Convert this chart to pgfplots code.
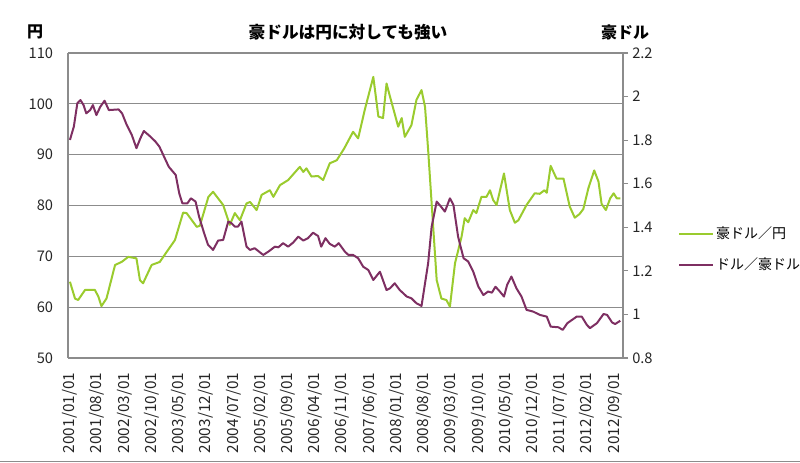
\documentclass[border=0pt]{standalone}
\usepackage{pgfplots}
\pgfplotsset{compat=1.18}
\usepackage{fontspec}
\setmainfont{Noto Sans CJK JP}
\definecolor{audjpy}{HTML}{9ACB2E}
\definecolor{usdaud}{HTML}{7E2F62}
\definecolor{axisgray}{HTML}{8C8C8C}
\definecolor{gridgray}{HTML}{8C8C8C}
\pgfplotstableread{
m v
0 65.0
1.3 61.7
2.1 61.4
3.9 63.4
6.4 63.4
7.3 62.1
8.1 60.2
9.4 61.7
11.6 68.3
13.3 68.9
15 69.9
17.1 69.6
18 65.3
18.8 64.7
21 68.3
23.1 68.9
24.9 70.9
27 73.2
29.1 78.6
30 78.5
32.6 75.8
33.4 76.0
35.6 81.7
36.8 82.7
39.4 80.1
41.1 76.2
42.4 78.5
43.7 77.1
45.4 80.4
46.3 80.7
48 79.1
49.3 82.1
51.4 83.0
52.3 81.7
54 84.0
56.1 85.0
59.1 87.6
60 86.6
60.8 87.3
62.1 85.7
63.8 85.8
65.1 85.0
66.8 88.3
68.6 88.9
70.5 91.2
72.8 94.5
74.1 93.2
75.8 98.8
78 105.3
79.3 97.5
80.5 97.2
81.4 104.0
82.3 101.4
84.4 95.5
85.3 97.2
86.1 93.5
87.8 95.8
89.1 100.8
90.4 102.7
91.3 99.4
92.1 90.9
93 80.4
94.3 65.3
95.5 61.7
96.8 61.4
97.7 60.1
99 68.6
100.7 73.9
101.5 77.5
102.4 76.7
103.7 79.1
104.5 78.5
105.8 81.7
107.1 81.7
108 83.0
108.8 81.1
109.7 80.1
111.6 86.3
113.1 79.1
114.4 76.6
115.3 77.1
117.4 80.1
119.5 82.4
120.8 82.3
122 83.0
122.6 82.5
123.6 87.8
125.1 85.3
126.9 85.3
128.5 79.8
129.8 77.6
131 78.3
132 79.3
133.3 83.4
134.8 86.9
135.9 84.7
136.7 80.3
137.8 79.1
138.9 81.4
139.8 82.4
140.6 81.4
141.5 81.4
}\yentable
\pgfplotstableread{
m v
0 1.801
1 1.862
1.9 1.969
2.7 1.984
3.5 1.961
4.2 1.923
5.2 1.938
5.9 1.961
6.8 1.915
7.8 1.953
8.9 1.981
10 1.938
12.5 1.941
13.4 1.923
14.6 1.870
15.9 1.824
17.1 1.763
18.1 1.808
19 1.842
20.7 1.816
22 1.793
23 1.770
24.2 1.724
25.4 1.678
27.2 1.640
28.1 1.556
28.9 1.510
30.2 1.510
31.1 1.533
32.3 1.518
33.2 1.449
34.5 1.373
35.5 1.320
36.8 1.296
38.1 1.339
39.4 1.342
40.7 1.426
41.5 1.419
42.4 1.403
43.2 1.403
44.1 1.426
45.4 1.311
46.3 1.296
47.5 1.304
49.7 1.273
51 1.288
52.7 1.311
53.6 1.308
54.8 1.327
56.1 1.311
57.4 1.330
58.7 1.357
60 1.339
61.2 1.350
62.5 1.375
63.8 1.360
64.6 1.311
65.7 1.350
66.8 1.324
68.1 1.311
69.1 1.327
70.7 1.288
71.6 1.273
72.8 1.273
74.1 1.258
75.4 1.219
76.7 1.204
78 1.158
79.7 1.196
81.4 1.112
82.3 1.120
83.5 1.143
84.8 1.112
86.6 1.082
87.8 1.074
89.1 1.051
90.4 1.039
91.3 1.143
92.1 1.235
93 1.403
94.3 1.518
95.4 1.495
96.4 1.472
97.7 1.533
98.6 1.503
99.8 1.357
101.2 1.258
102.4 1.243
103.7 1.196
105 1.128
106.3 1.089
107.5 1.105
108.5 1.100
109.4 1.127
110.3 1.110
111.6 1.082
112.4 1.135
113.5 1.174
114.8 1.120
116.1 1.082
117.4 1.021
119.1 1.013
120.8 0.998
122.6 0.990
123.6 0.944
125.6 0.941
126.7 0.929
127.9 0.960
130.3 0.990
131.6 0.990
132.9 0.952
133.7 0.937
135.5 0.960
137.2 1.002
138.1 0.998
139.4 0.963
140.2 0.956
141.5 0.971
}\audtable
\begin{document}
\begin{tikzpicture}
\path[use as bounding box] (0pt,0pt) rectangle (600pt,347.25pt);
\begin{axis}[
  at={(51pt,78.75pt)}, anchor=south west,
  width=416.25pt, height=228.75pt, scale only axis,
  xmin=-0.5, xmax=142.2,
  ymin=50, ymax=110, ytick={50,60,...,110},
  axis x line*=bottom, axis y line*=left,
  axis line style={draw=axisgray, line width=0.9pt},
  ymajorgrids, grid style={draw=gridgray, line width=0.9pt},
  major tick length=0pt,
  xtick={0,7,...,140},
  xticklabels={2001/01/01,2001/08/01,2002/03/01,2002/10/01,2003/05/01,2003/12/01,2004/07/01,2005/02/01,2005/09/01,2006/04/01,2006/11/01,2007/06/01,2008/01/01,2008/08/01,2009/03/01,2009/10/01,2010/05/01,2010/12/01,2011/07/01,2012/02/01,2012/09/01},
  xticklabel style={rotate=90, anchor=east, inner sep=0pt, xshift=-11pt, font=\fontsize{11.5}{12}\selectfont, text=black!85},
  yticklabel style={anchor=east, inner sep=0pt, xshift=-11pt, font=\fontsize{11}{12}\selectfont, text=black!85},
  /pgf/number format/assume math mode=true,
]
\addplot[color=audjpy, line width=1.5pt, line join=round] table[x=m,y=v] {\yentable};
\end{axis}
\begin{axis}[
  at={(51pt,78.75pt)}, anchor=south west,
  width=416.25pt, height=228.75pt, scale only axis,
  xmin=-0.5, xmax=142.2,
  ymin=0.8, ymax=2.2, ytick={0.8,1,...,2.2},
  axis y line*=right, axis x line=none,
  axis line style={draw=axisgray, line width=0.9pt},
  ytick align=outside, major tick length=3.75pt,
  tick style={draw=axisgray, line width=0.8pt},
  yticklabel style={anchor=west, inner sep=0pt, xshift=3pt, font=\fontsize{11}{12}\selectfont, text=black!85},
  /pgf/number format/assume math mode=true,
  legend style={draw=none, fill=none, at={(1.099,0.356)}, anchor=west,
    font=\fontsize{10.5}{12}\selectfont, row sep=9pt, inner sep=0pt},
  legend cell align=left,
  legend image code/.code={\draw[#1] (0pt,0pt) -- (25pt,0pt);},
]
\addlegendimage{color=audjpy, line width=1.5pt}
\addlegendentry{豪ドル／円}
\addplot[color=usdaud, line width=1.5pt, line join=round] table[x=m,y=v] {\audtable};
\addlegendentry{ドル／豪ドル}
\end{axis}
\node[font=\bfseries\fontsize{12.5}{14}\selectfont] at (261pt,323.25pt) {豪ドルは円に対しても強い};
\node[font=\bfseries\fontsize{12}{14}\selectfont] at (26.25pt,323.25pt) {円};
\node[font=\bfseries\fontsize{12}{14}\selectfont] at (468.75pt,323.25pt) {豪ドル};
\draw[draw=axisgray, line width=1pt] (0pt,1.1pt) -- (600pt,1.1pt);
\end{tikzpicture}
\end{document}
